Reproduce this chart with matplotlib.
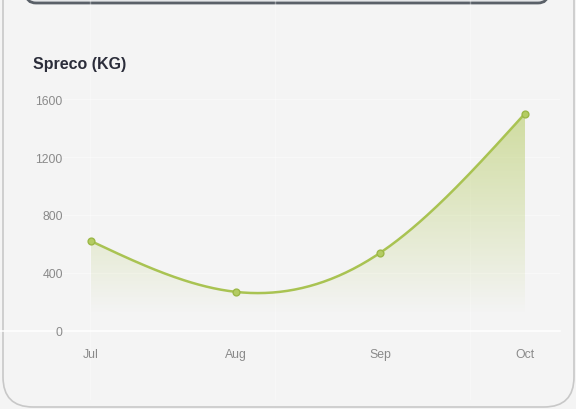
import numpy as np
import matplotlib
matplotlib.use("Agg")
import matplotlib.pyplot as plt
from matplotlib.patches import FancyBboxPatch, Polygon
from matplotlib.colors import LinearSegmentedColormap

months = ["Jul", "Aug", "Sep", "Oct"]
spreco = [620, 270, 540, 1500]
yticks = [0, 400, 800, 1200, 1600]
title = "Spreco (KG)"

W, H = 576, 410
fig = plt.figure(figsize=(W / 100, H / 100), dpi=100)
fig.patch.set_facecolor("#f4f4f4")

# background axes in pixel coordinates (y down)
bg = fig.add_axes([0, 0, 1, 1], zorder=-10)
bg.set_xlim(0, W)
bg.set_ylim(H, 0)
bg.axis("off")
bg.add_patch(FancyBboxPatch((3, -40), W - 5, H - 2 + 40,
                            boxstyle="round,pad=0,rounding_size=30",
                            facecolor="#f4f4f4", edgecolor="#c8c8c8",
                            linewidth=1.2))
bg.add_patch(FancyBboxPatch((26, -30), W - 54, 34,
                            boxstyle="round,pad=0,rounding_size=10",
                            facecolor="#e4e6e8", edgecolor="#5a6068",
                            linewidth=2.0))
# faint white photo grid lines
for gx in [90, 275, 470]:
    bg.plot([gx, gx], [0, 400], color="white", lw=1.0, alpha=0.35)
bg.plot([0, 560], [332, 332], color="white", lw=1.2, alpha=0.9)

# axes geometry (pixels): x 60..560, y(top) 90..345
ax_left, ax_right, ax_top, ax_bot = 60, 560, 90, 345
ax = fig.add_axes([ax_left / W, (H - ax_bot) / H, (ax_right - ax_left) / W,
                   (ax_bot - ax_top) / H])
ax.set_facecolor("none")
px_per_x = (525 - 91) / 3
px_per_y = (332 - 100) / 1600
ax.set_xlim(-(91 - ax_left) / px_per_x, 3 + (ax_right - 525) / px_per_x)
ax.set_ylim(-(ax_bot - 332) / px_per_y, (332 - ax_top) / px_per_y)

x = np.arange(len(months), dtype=float)
y = np.array(spreco, dtype=float)

# natural cubic spline through the points
n = len(x)
h = np.diff(x)
A = np.zeros((n, n))
b = np.zeros(n)
A[0, 0] = 1
A[-1, -1] = 1
for i in range(1, n - 1):
    A[i, i - 1] = h[i - 1]
    A[i, i] = 2 * (h[i - 1] + h[i])
    A[i, i + 1] = h[i]
    b[i] = 6 * ((y[i + 1] - y[i]) / h[i] - (y[i] - y[i - 1]) / h[i - 1])
M = np.linalg.solve(A, b)
cx_list, cy_list = [], []
for i in range(n - 1):
    tt = np.linspace(x[i], x[i + 1], 60)
    a_ = (x[i + 1] - tt) / h[i]
    b_ = (tt - x[i]) / h[i]
    yy = (a_ * y[i] + b_ * y[i + 1]
          + ((a_ ** 3 - a_) * M[i] + (b_ ** 3 - b_) * M[i + 1]) * h[i] ** 2 / 6)
    if i > 0:
        tt, yy = tt[1:], yy[1:]
    cx_list.append(tt)
    cy_list.append(yy)
cx = np.concatenate(cx_list)
cy = np.concatenate(cy_list)

line_color = "#a9c352"

# gradient fill
poly_pts = np.vstack([[cx[0], 0], np.column_stack([cx, cy]), [cx[-1], 0]])
poly = Polygon(poly_pts, closed=True, facecolor="none", edgecolor="none")
ax.add_patch(poly)
g = (0.70, 0.79, 0.36)
cmap = LinearSegmentedColormap.from_list(
    "g", [(0.0, g + (0.0,)), (0.08, g + (0.0,)), (0.3, g + (0.14,)),
          (0.6, g + (0.32,)), (1.0, g + (0.55,))])
grad = np.linspace(0, 1, 256).reshape(-1, 1)
im = ax.imshow(grad, cmap=cmap, aspect="auto", origin="lower",
               extent=[cx[0], cx[-1], 0, y.max()], zorder=2,
               interpolation="bilinear")
im.set_clip_path(poly)

ax.plot(cx, cy, color=line_color, lw=1.8, zorder=3, solid_capstyle="round")
ax.scatter(x, y, s=24, color="#b4cc62", edgecolor="#9cb847", linewidth=1.0,
           zorder=4)

# faint grid
for v in yticks[1:]:
    ax.axhline(v, color="white", lw=1.0, alpha=0.4, zorder=1)

ax.set_yticks(yticks)
ax.set_yticklabels([str(v) for v in yticks])
ax.set_xticks(x)
ax.set_xticklabels(months)
ax.tick_params(axis="both", length=0, labelsize=8.8, labelcolor="#8a8a8a")
ax.tick_params(axis="y", pad=-2)
ax.tick_params(axis="x", pad=3)
for lab in ax.get_xticklabels() + ax.get_yticklabels():
    lab.set_fontfamily("Liberation Sans")
for s in ax.spines.values():
    s.set_visible(False)

fig.text(33 / W, (H - 65) / H, title, fontsize=11.5, fontweight="bold",
         color="#2b2d3a", family="Liberation Sans", va="center", ha="left")

fig.savefig("out.png", dpi=100, facecolor=fig.get_facecolor())
